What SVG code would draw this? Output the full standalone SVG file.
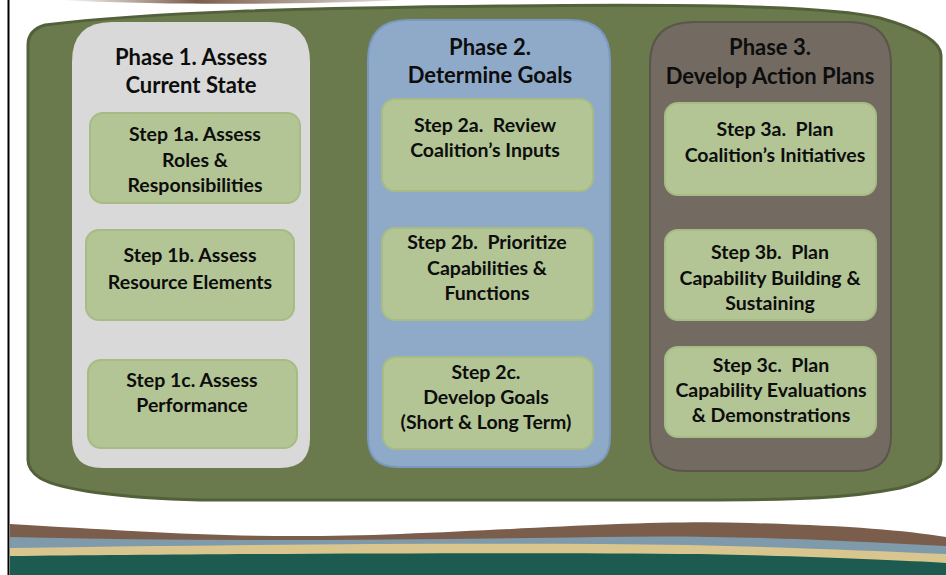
<svg xmlns="http://www.w3.org/2000/svg" width="946" height="575" viewBox="0 0 946 575">
<defs>
<style>
.t{font-family:Lato,"Liberation Sans",sans-serif;font-weight:bold;fill:#0d0d0d;text-anchor:middle;white-space:pre}
.ti{font-size:22px}
.st{font-size:19.5px}
.step{fill:#b3c595;stroke:#a7bc85;stroke-width:2}
</style>
<linearGradient id="tb" x1="0" y1="0" x2="1" y2="0">
<stop offset="0" stop-color="#7b5d4b" stop-opacity="0"/>
<stop offset="0.4" stop-color="#7b5d4b"/>
<stop offset="1" stop-color="#7b5d4b" stop-opacity="0.2"/>
</linearGradient>
</defs>
<rect width="946" height="575" fill="#ffffff"/>
<path d="M60,0 C150,5 300,5 400,0 Z" fill="url(#tb)"/>
<g id="background-bands">
<path d="M10,524 C150,532 250,540 400,534 C550,528 650,520 750,523 C850,526 900,530 946,537 L946,575 L10,575 Z" fill="#7b5d4b"/>
<path d="M10,537 C200,542 400,540 600,537 C700,535 800,538 946,546 L946,575 L10,575 Z" fill="#7f9aab"/>
<path d="M10,548 C200,545 400,543 600,544 C750,545 850,550 946,554 L946,575 L10,575 Z" fill="#d9c68f"/>
<path d="M10,556 C200,554 500,552 700,554 C800,556 900,560 946,563 L946,575 L10,575 Z" fill="#1d5a4f"/>
</g>
<line x1="8.5" y1="0" x2="8.5" y2="575" stroke="#000" stroke-width="2"/>
<g id="container">
<path d="M28,45 Q28,30 45,25 C150,12 300,8 500,6 C700,4 830,6 880,18 Q940,35 941,55 L941,460 Q940,478 900,488 C850,498 800,500 700,500 L200,500 C120,498 60,490 40,478 Q28,470 28,460 Z" fill="#6b7a4c" stroke="#526139" stroke-width="3"/>
</g>
<g id="phase1">
<path d="M112,22 L270,22 Q310,22 310,62 L310,438 Q310,468 280,468 L102,468 Q72,468 72,438 L72,62 Q72,22 112,22 Z" fill="#d9d9d9"/>
<text class="t ti" x="191" y="65">Phase 1. Assess</text>
<text class="t ti" x="191" y="93">Current State</text>
</g>
<g id="phase2">
<path d="M408,20 L570,20 Q610,20 610,60 L610,437 Q610,467 580,467 L398,467 Q368,467 368,437 L368,60 Q368,20 408,20 Z" fill="#8eaac8" stroke="#7b98c1" stroke-width="2"/>
<text class="t ti" x="490" y="55">Phase 2.</text>
<text class="t ti" x="490" y="83">Determine Goals</text>
</g>
<g id="phase3">
<path d="M694,22 L849,22 Q891,22 891,64 L891,436 Q891,471 856,471 L685,471 Q650,471 650,436 L650,64 Q650,22 694,22 Z" fill="#736b62" stroke="#5c554e" stroke-width="2"/>
<text class="t ti" x="770" y="55">Phase 3.</text>
<text class="t ti" x="770" y="84">Develop Action Plans</text>
</g>
<g id="step1a">
<rect class="step" x="90" y="113" width="210" height="90" rx="13"/>
<text class="t st" x="195" y="141">Step 1a. Assess</text>
<text class="t st" x="195" y="167">Roles &amp;</text>
<text class="t st" x="195" y="192">Responsibilities</text>
</g>
<g id="step1b">
<rect class="step" x="86" y="230" width="208" height="90" rx="13"/>
<text class="t st" x="190" y="262">Step 1b. Assess</text>
<text class="t st" x="190" y="289">Resource Elements</text>
</g>
<g id="step1c">
<rect class="step" x="88" y="360" width="209" height="88" rx="13"/>
<text class="t st" x="192" y="387">Step 1c. Assess</text>
<text class="t st" x="192" y="412">Performance</text>
</g>
<g id="step2a">
<rect class="step" x="382" y="99" width="211" height="92" rx="13"/>
<text class="t st" x="485" y="132">Step 2a.  Review</text>
<text class="t st" x="485" y="157">Coalition’s Inputs</text>
</g>
<g id="step2b">
<rect class="step" x="382" y="228" width="211" height="92" rx="13"/>
<text class="t st" x="487" y="249">Step 2b.  Prioritize</text>
<text class="t st" x="487" y="275">Capabilities &amp;</text>
<text class="t st" x="487" y="300">Functions</text>
</g>
<g id="step2c">
<rect class="step" x="383" y="357" width="210" height="92" rx="13"/>
<text class="t st" x="486" y="379">Step 2c.</text>
<text class="t st" x="486" y="404">Develop Goals</text>
<text class="t st" x="486" y="429">(Short &amp; Long Term)</text>
</g>
<g id="step3a">
<rect class="step" x="665" y="103" width="211" height="92" rx="13"/>
<text class="t st" x="775" y="136">Step 3a.  Plan</text>
<text class="t st" x="775" y="162">Coalition’s Initiatives</text>
</g>
<g id="step3b">
<rect class="step" x="665" y="230" width="211" height="90" rx="13"/>
<text class="t st" x="770" y="259">Step 3b.  Plan</text>
<text class="t st" x="770" y="285">Capability Building &amp;</text>
<text class="t st" x="770" y="310">Sustaining</text>
</g>
<g id="step3c">
<rect class="step" x="665" y="347" width="211" height="90" rx="13"/>
<text class="t st" x="771" y="372">Step 3c.  Plan</text>
<text class="t st" x="771" y="397">Capability Evaluations</text>
<text class="t st" x="771" y="422">&amp; Demonstrations</text>
</g>
<g id="connectors"/>
</svg>
